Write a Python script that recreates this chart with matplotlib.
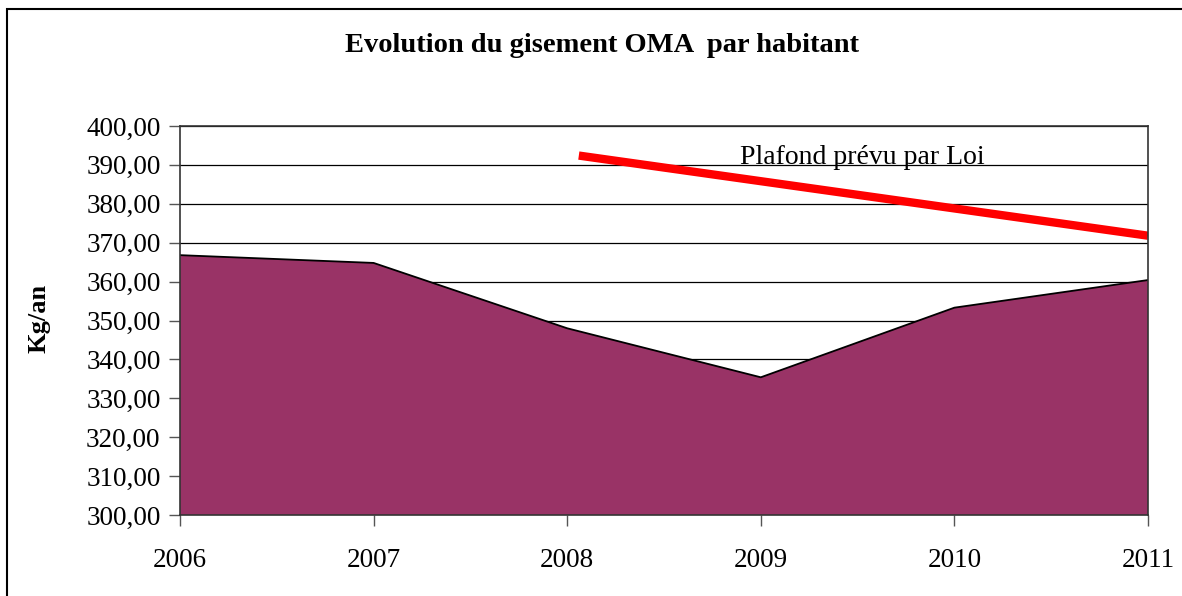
import matplotlib
matplotlib.use("Agg")
import matplotlib.pyplot as plt
from matplotlib.patches import Rectangle
from matplotlib.ticker import FuncFormatter

years = [2006, 2007, 2008, 2009, 2010, 2011]
gisement = [366.8, 364.8, 348.0, 335.4, 353.3, 360.4]
plafond_x = [2008.06, 2011]
plafond = [392.4, 371.8]

title = "Evolution du gisement OMA  par habitant"
ylabel = "Kg/an"
annot = "Plafond prévu par Loi"

plt.rcParams['font.family'] = ['Liberation Serif', 'DejaVu Serif']

fig = plt.figure(figsize=(11.82, 5.96), dpi=100)
W, H = 1182, 596
ax = fig.add_axes([180 / W, 1 - 515 / H, (1148 - 180) / W, (515 - 126) / H])

ax.fill_between(years, gisement, 300, facecolor='#993366', edgecolor='none', zorder=2)
ax.plot(years, gisement, color='black', lw=1.3, zorder=3)
ax.plot(plafond_x, plafond, color='#ff0000', lw=6, solid_capstyle='butt', zorder=4)

ax.set_xlim(2006, 2011)
ax.set_ylim(300, 400)
ax.set_yticks(range(300, 401, 10))
ax.set_xticks(years)
ax.yaxis.set_major_formatter(FuncFormatter(lambda v, p: f"{v:.2f}".replace('.', ',')))
ax.grid(axis='y', color='black', lw=0.9, zorder=1)
ax.set_axisbelow(True)
for s in ax.spines.values():
    s.set_color('#333333')
    s.set_linewidth(1.2)
    s.set_zorder(5)
ax.tick_params(axis='both', direction='out', length=8, width=1, color='#555555',
               labelsize=19.5, pad=6)
ax.tick_params(axis='x', pad=16)

ax.set_ylabel(ylabel, fontsize=19, fontweight='bold')
ax.yaxis.set_label_coords((50 - 180) / (1148 - 180), (515 - 318) / (515 - 126))

fig.text(862 / W, 1 - 157 / H, annot, fontsize=20, ha='center', va='center')
fig.text(602 / W, 1 - 46 / H, title, fontsize=20.5, fontweight='bold', ha='center', va='center')

fig.patches.append(Rectangle((7 / W, -0.1), 1.2, 1 - 9 / H + 0.1, transform=fig.transFigure,
                             fill=False, edgecolor='black', lw=1.5))

fig.savefig('out.png', dpi=100)
